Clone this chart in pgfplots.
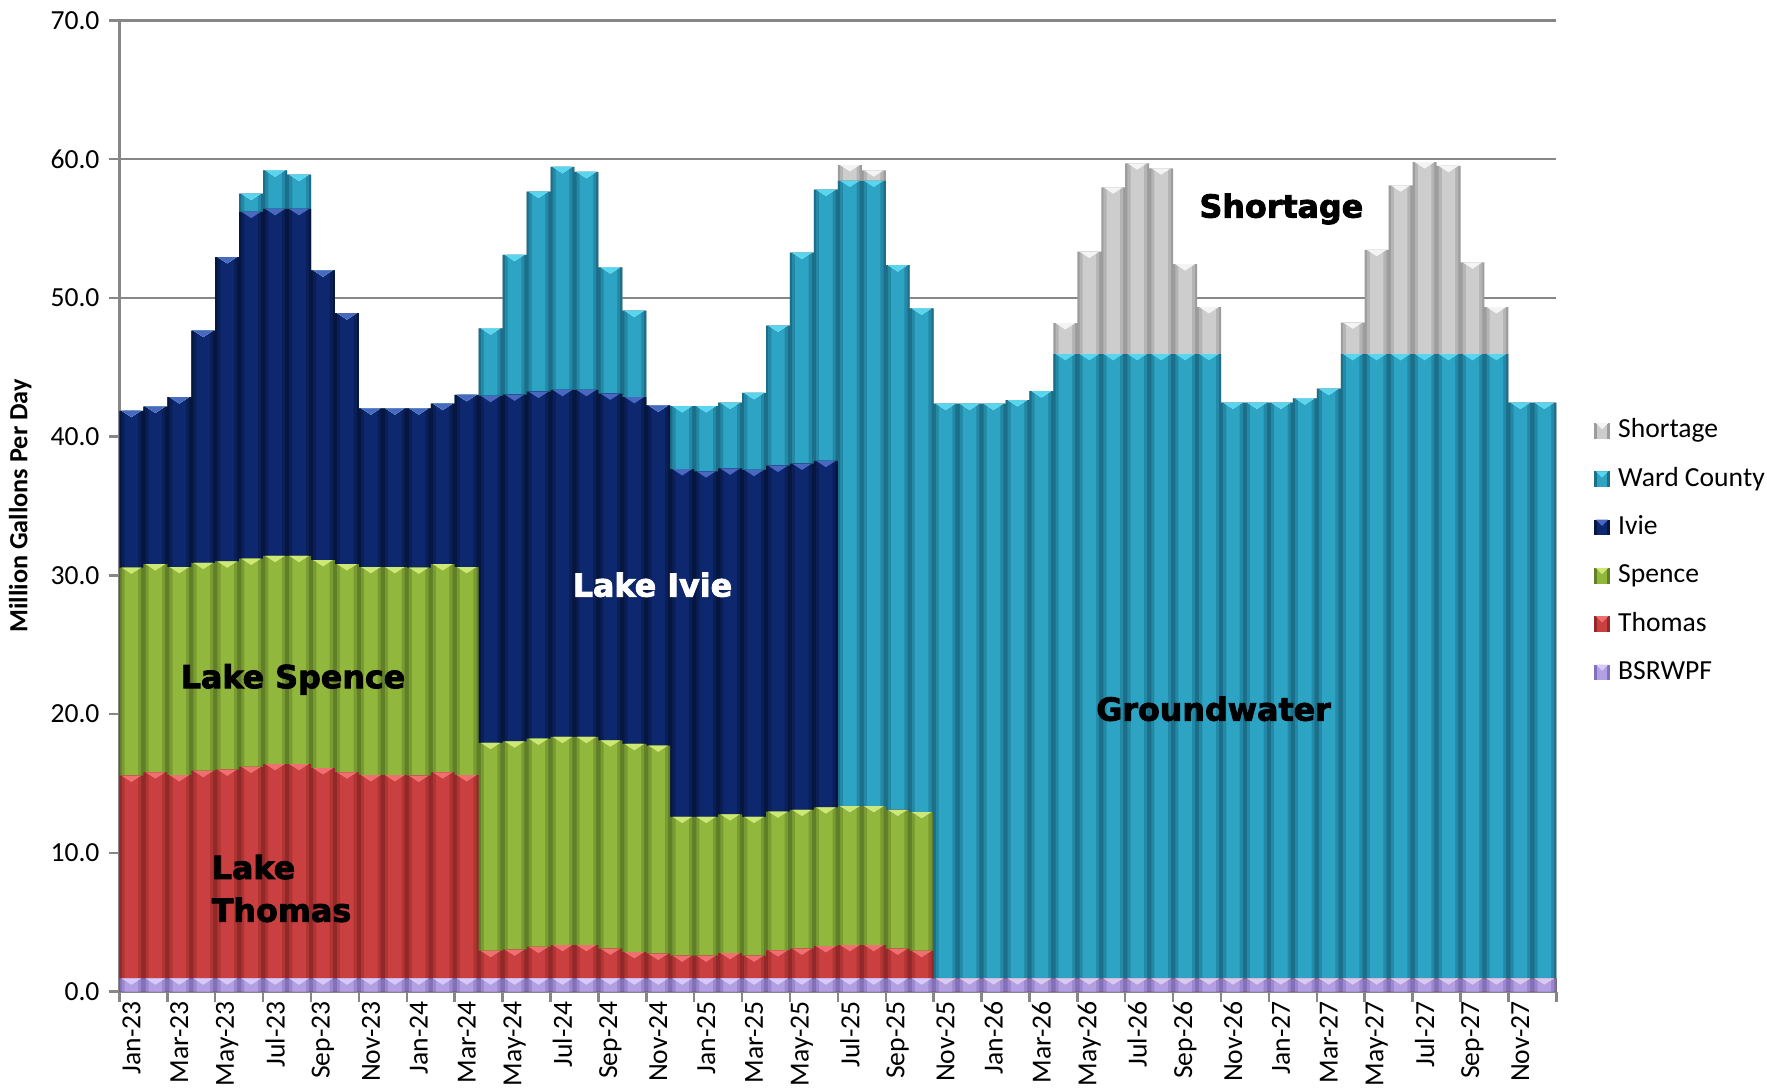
\documentclass[border=0pt]{standalone}
\usepackage{pgfplots}
\usepackage{pgfplotstable}
\pgfplotsset{compat=1.18}
\usepackage{fontspec}
\setmainfont{Carlito}
\newfontfamily\annfont{DejaVu Sans}[BoldFeatures={FakeBold=2.6}]

\definecolor{bsrE}{HTML}{8270B8}\definecolor{bsrM}{HTML}{B3A0E4}\definecolor{bsrT}{HTML}{D8CAF8}
\definecolor{thoE}{HTML}{932828}\definecolor{thoM}{HTML}{CA3F3F}\definecolor{thoT}{HTML}{EE7070}
\definecolor{speE}{HTML}{617F28}\definecolor{speM}{HTML}{91B73C}\definecolor{speT}{HTML}{CDE874}
\definecolor{ivE}{HTML}{06163F}\definecolor{ivM}{HTML}{0E2870}\definecolor{ivT}{HTML}{4A68C0}
\definecolor{waE}{HTML}{1B6F89}\definecolor{waM}{HTML}{2EA4C4}\definecolor{waT}{HTML}{58D6F0}
\definecolor{shE}{HTML}{9C9C9C}\definecolor{shM}{HTML}{CDCDCD}\definecolor{shT}{HTML}{F4F4F4}
\definecolor{axgray}{HTML}{878787}

\pgfdeclareplotmark{chev}{%
  \pgfpathmoveto{\pgfqpoint{-3.5pt}{0pt}}%
  \pgfpathlineto{\pgfqpoint{3.5pt}{0pt}}%
  \pgfpathlineto{\pgfqpoint{0pt}{-2.3pt}}%
  \pgfpathclose\pgfusepathqfill}

% cumulative tops of each layer (MGD)
\pgfplotstableread{
x bsr thomas spence ivie ward total
0 0.95 15.56 30.56 41.86 41.86 41.86
1 0.95 15.80 30.80 42.16 42.16 42.16
2 0.95 15.60 30.60 42.84 42.84 42.84
3 0.95 15.90 30.90 47.63 47.63 47.63
4 0.95 16.00 31.00 52.94 52.94 52.94
5 0.95 16.20 31.20 56.20 57.50 57.50
6 0.95 16.40 31.40 56.40 59.18 59.18
7 0.95 16.40 31.40 56.40 58.87 58.87
8 0.95 16.10 31.10 51.98 51.98 51.98
9 0.95 15.80 30.80 48.89 48.89 48.89
10 0.95 15.60 30.60 42.04 42.04 42.04
11 0.95 15.60 30.60 42.04 42.04 42.04
12 0.95 15.56 30.56 42.04 42.04 42.04
13 0.95 15.80 30.80 42.37 42.37 42.37
14 0.95 15.60 30.60 43.00 43.00 43.00
15 0.95 2.93 17.93 42.93 47.80 47.80
16 0.95 3.03 18.03 43.03 53.10 53.10
17 0.95 3.23 18.23 43.23 57.65 57.65
18 0.95 3.36 18.36 43.36 59.43 59.43
19 0.95 3.36 18.36 43.36 59.07 59.07
20 0.95 3.10 18.10 43.10 52.20 52.20
21 0.95 2.85 17.85 42.85 49.07 49.07
22 0.95 2.73 17.73 42.24 42.24 42.24
23 0.95 2.60 12.60 37.65 42.20 42.20
24 0.95 2.60 12.60 37.50 42.20 42.20
25 0.95 2.78 12.78 37.70 42.45 42.45
26 0.95 2.60 12.60 37.60 43.14 43.14
27 0.95 2.98 12.98 37.90 48.00 48.00
28 0.95 3.10 13.10 38.05 53.25 53.25
29 0.95 3.28 13.28 38.25 57.80 57.80
30 0.95 3.36 13.36 13.36 58.43 59.56
31 0.95 3.36 13.36 13.36 58.43 59.18
32 0.95 3.10 13.10 13.10 52.35 52.35
33 0.95 2.93 12.93 12.93 49.23 49.23
34 0.95 0.95 0.95 0.95 42.37 42.37
35 0.95 0.95 0.95 0.95 42.37 42.37
36 0.95 0.95 0.95 0.95 42.37 42.37
37 0.95 0.95 0.95 0.95 42.63 42.63
38 0.95 0.95 0.95 0.95 43.27 43.27
39 0.95 0.95 0.95 0.95 45.95 48.17
40 0.95 0.95 0.95 0.95 45.95 53.32
41 0.95 0.95 0.95 0.95 45.95 57.96
42 0.95 0.95 0.95 0.95 45.95 59.69
43 0.95 0.95 0.95 0.95 45.95 59.33
44 0.95 0.95 0.95 0.95 45.95 52.42
45 0.95 0.95 0.95 0.95 45.95 49.33
46 0.95 0.95 0.95 0.95 42.45 42.45
47 0.95 0.95 0.95 0.95 42.45 42.45
48 0.95 0.95 0.95 0.95 42.45 42.45
49 0.95 0.95 0.95 0.95 42.76 42.76
50 0.95 0.95 0.95 0.95 43.45 43.45
51 0.95 0.95 0.95 0.95 45.95 48.22
52 0.95 0.95 0.95 0.95 45.95 53.45
53 0.95 0.95 0.95 0.95 45.95 58.10
54 0.95 0.95 0.95 0.95 45.95 59.77
55 0.95 0.95 0.95 0.95 45.95 59.50
56 0.95 0.95 0.95 0.95 45.95 52.55
57 0.95 0.95 0.95 0.95 45.95 49.33
58 0.95 0.95 0.95 0.95 42.45 42.45
59 0.95 0.95 0.95 0.95 42.45 42.45
}\datatable

\pgfplotsset{
  lay1/.style={fill=#1, draw=none, bar width=1, bar shift=0pt},
  lay2/.style={fill=#1, draw=none, bar width=0.82, bar shift=0pt, forget plot},
  lay3/.style={fill=#1, draw=none, bar width=0.56, bar shift=0pt, forget plot},
}

\newcommand{\series}[5]{% column, edge, mid, top colour, legend text
  \addplot[lay1=#2, legend image code/.code={\fill[#2] (0cm,-0.1cm) rectangle (0.2cm,0.1cm);
      \fill[#3] (0.035cm,-0.1cm) rectangle (0.165cm,0.1cm);
      \fill[#4] (0.02cm,0.1cm) -- (0.18cm,0.1cm) -- (0.1cm,0.02cm) -- cycle;}] table[x=x,y=#1]{\datatable};
  \addlegendentry{#5}
  \addplot[lay2={#3!50!#2}] table[x=x,y=#1]{\datatable};
  \addplot[lay3=#3] table[x=x,y=#1]{\datatable};
  \addplot[sharp plot, only marks, mark=chev, mark options={fill=#4, draw=none}, forget plot] table[x=x,y=#1]{\datatable};
}

\begin{document}
\begin{tikzpicture}
\useasboundingbox (-1.521cm,-1.263cm) rectangle (20.979cm,12.627cm);
\begin{axis}[
  scale only axis,
  width=18.296cm, height=12.369cm,
  ybar, bar shift=0pt,
  xmin=-0.5, xmax=59.5, ymin=0, ymax=70,
  enlarge x limits=false,
  axis lines*=left,
  axis line style={draw=axgray, line width=0.9pt},
  ymajorgrids,
  major grid style={draw=axgray, line width=0.9pt},
  tick align=outside,
  major tick length=0.13cm,
  tick style={draw=axgray, line width=0.9pt},
  ytick={0,10,...,70},
  yticklabel style={/pgf/number format/.cd, fixed, fixed zerofill, precision=1, assume math mode=true},
  tick label style={font=\fontsize{10}{12}\selectfont},
  xtick={-0.5,1.5,...,59.5},
  xticklabels={},
  extra x ticks={0,2,...,58},
  extra x tick labels={Jan-23,Mar-23,May-23,Jul-23,Sep-23,Nov-23,Jan-24,Mar-24,May-24,Jul-24,Sep-24,Nov-24,Jan-25,Mar-25,May-25,Jul-25,Sep-25,Nov-25,Jan-26,Mar-26,May-26,Jul-26,Sep-26,Nov-26,Jan-27,Mar-27,May-27,Jul-27,Sep-27,Nov-27},
  extra x tick style={major tick length=0pt, xticklabel style={rotate=90, anchor=east, font=\fontsize{10}{12}\selectfont}},
  ylabel={Million Gallons Per Day},
  ylabel style={font=\fontsize{9.5}{11}\selectfont\bfseries},
  legend cell align=left,
  legend style={draw=none, fill=none, inner sep=0pt, at={(1.026,0.453)}, anchor=west,
    font=\fontsize{10}{12}\selectfont, row sep=6pt, column sep=2pt,
    nodes={inner sep=1pt, text height=7.3pt, text depth=2.2pt}},
]
\series{total}{shE}{shM}{shT}{Shortage}
\series{ward}{waE}{waM}{waT}{Ward County}
\series{ivie}{ivE}{ivM}{ivT}{Ivie}
\series{spence}{speE}{speM}{speT}{Spence}
\series{thomas}{thoE}{thoM}{thoT}{Thomas}
\series{bsr}{bsrE}{bsrM}{bsrT}{BSRWPF}

\coordinate (cSpence) at (axis cs:6.75,22.5);
\coordinate (cThomas) at (axis cs:2.95,7.43);
\coordinate (cIvie) at (axis cs:21.76,29.32);
\coordinate (cGround) at (axis cs:45.19,20.38);
\coordinate (cShort) at (axis cs:48.02,56.4);
\end{axis}
\begin{scope}[every node/.style={font={\annfont\fontsize{11.5}{15.5}\selectfont\bfseries}}]
\node at (cSpence) {Lake Spence};
\node[align=left, anchor=west] at (cThomas) {Lake\\Thomas};
\node[text=white] at (cIvie) {Lake Ivie};
\node at (cGround) {Groundwater};
\node at (cShort) {Shortage};
\end{scope}
\end{tikzpicture}
\end{document}
